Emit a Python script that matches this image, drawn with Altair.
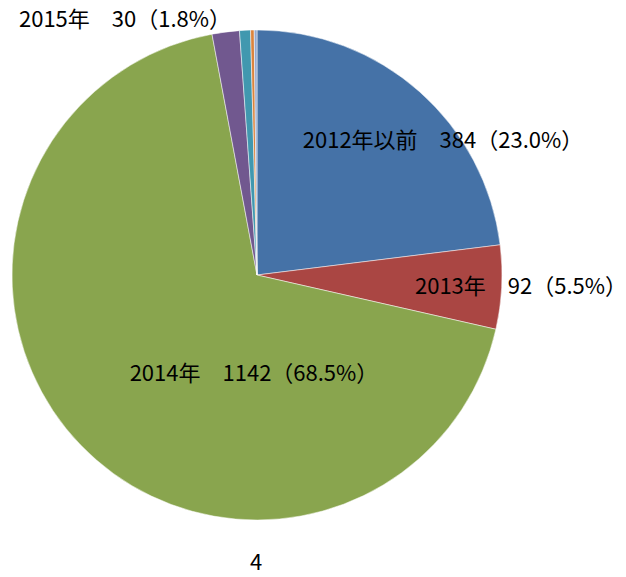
import altair as alt
import pandas as pd

categories = ["2012年以前", "2013年", "2014年", "2015年", "2016年", "2017年", "不明"]
values = [384, 92, 1142, 30, 12, 4, 3]
colors = ["#4572A7", "#AA4643", "#89A54E", "#71588F", "#4198AF", "#DB843D", "#93A9CF"]
label_texts = ["2012年以前\u3000384（23.0%）", "2013年\u300092（5.5%）", "2014年\u30001142（68.5%）", "2015年\u300030（1.8%）", "4"]

df = pd.DataFrame({"cat": categories, "val": values, "order": list(range(len(values)))})

pie = alt.Chart(df).mark_arc(outerRadius=245, stroke="white", strokeWidth=0.5).encode(
    theta=alt.Theta("val:Q", stack=True),
    color=alt.Color("cat:N", scale=alt.Scale(domain=categories, range=colors), legend=None),
    order=alt.Order("order:Q"),
    x=alt.value(257),
    y=alt.value(275),
)

label_pos = [(443, 141), (521, 287), (254, 374), (125, 20), (256, 563)]
layers = [pie]
for txt, (px, py) in zip(label_texts, label_pos):
    layers.append(
        alt.Chart(pd.DataFrame({"t": [txt]})).mark_text(
            font="Noto Sans CJK JP", fontSize=22, color="black", align="center", baseline="middle"
        ).encode(text="t:N", x=alt.value(px), y=alt.value(py))
    )

chart = alt.layer(*layers).properties(
    width=626, height=577, padding=0, autosize=alt.AutoSizeParams(type="none")
).configure_view(stroke=None)

chart.save("out.html", embed_options={"renderer": "svg", "actions": False})
